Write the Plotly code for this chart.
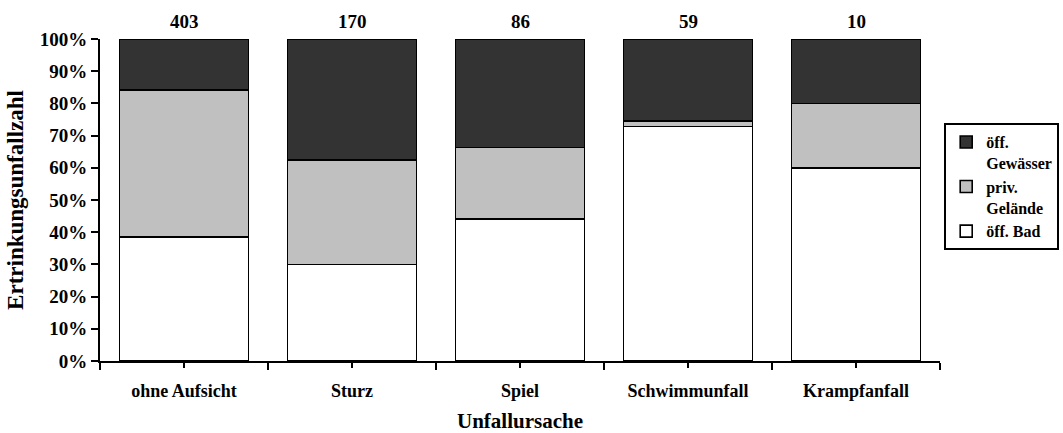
import plotly.graph_objects as go

# Unfallursachen (x categories)
categories = ["ohne Aufsicht", "Sturz", "Spiel", "Schwimmunfall", "Krampfanfall"]

# Ertrinkungsunfälle nach Ort, je Unfallursache (Anzahl)
oeff_bad = [155, 51, 38, 43, 6]
priv_gelaende = [184, 55, 19, 1, 2]
oeff_gewaesser = [64, 64, 29, 15, 2]

y_ticks = [0, 10, 20, 30, 40, 50, 60, 70, 80, 90, 100]

positions = list(range(len(categories)))
totals = [a + b + c for a, b, c in zip(oeff_bad, priv_gelaende, oeff_gewaesser)]

FONT = "Liberation Serif"
bar_width = 1 / 1.3

series = [
    ("öff. Bad", oeff_bad, "#ffffff"),
    ("priv.<br>Gelände", priv_gelaende, "#c0c0c0"),
    ("öff.<br>Gewässer", oeff_gewaesser, "#333333"),
]

fig = go.Figure()
for name, values, color in series:
    fig.add_trace(go.Bar(
        x=positions,
        y=values,
        name=name,
        width=bar_width,
        marker=dict(color=color, line=dict(color="black", width=1.6)),
        hoverinfo="skip",
    ))

# Gesamtzahl über jeder Säule
for pos, total in zip(positions, totals):
    fig.add_annotation(
        x=pos, y=100, xref="x", yref="y",
        text=str(total), showarrow=False,
        yanchor="bottom", yshift=5,
        font=dict(family=FONT, size=19, color="black", weight="bold"),
    )

fig.update_layout(
    width=1063,
    height=433,
    autosize=False,
    margin=dict(l=100, r=123, t=39, b=72, autoexpand=False),
    barmode="stack",
    barnorm="percent",
    paper_bgcolor="white",
    plot_bgcolor="white",
    font=dict(family=FONT, size=18, color="black", weight="bold"),
    showlegend=True,
    legend=dict(
        x=1.005, xanchor="left",
        y=0.739, yanchor="top",
        traceorder="reversed",
        valign="top",
        bordercolor="black",
        borderwidth=2,
        bgcolor="white",
        font=dict(family=FONT, size=16, color="black", weight="bold"),
        tracegroupgap=0,
        itemwidth=30,
    ),
)

fig.update_xaxes(
    range=[-0.5, len(categories) - 0.5],
    automargin=False,
    tickmode="array",
    tickvals=positions,
    ticktext=categories,
    ticks="outside",
    ticklen=5,
    tickwidth=2,
    tickcolor="black",
    ticklabelstandoff=7,
    minor=dict(
        tickmode="array",
        tickvals=[p - 0.5 for p in positions] + [positions[-1] + 0.5],
        ticks="outside",
        ticklen=7,
        tickwidth=2,
        tickcolor="black",
    ),
    showline=True,
    linecolor="black",
    linewidth=2,
    showgrid=False,
    zeroline=False,
    title=dict(text="Unfallursache", standoff=15,
               font=dict(family=FONT, size=21, weight="bold")),
    tickfont=dict(family=FONT, size=18, weight="bold"),
)

fig.update_yaxes(
    range=[0, 100],
    automargin=False,
    tickmode="array",
    tickvals=y_ticks,
    ticktext=[f"{v}%" for v in y_ticks],
    ticks="outside",
    ticklen=7,
    tickwidth=2,
    tickcolor="black",
    showline=True,
    linecolor="black",
    linewidth=2,
    showgrid=False,
    zeroline=False,
    title=dict(text="Ertrinkungsunfallzahl", standoff=10,
               font=dict(family=FONT, size=23, weight="bold")),
    tickfont=dict(family=FONT, size=19, weight="bold"),
)

fig.write_html("out.html")
